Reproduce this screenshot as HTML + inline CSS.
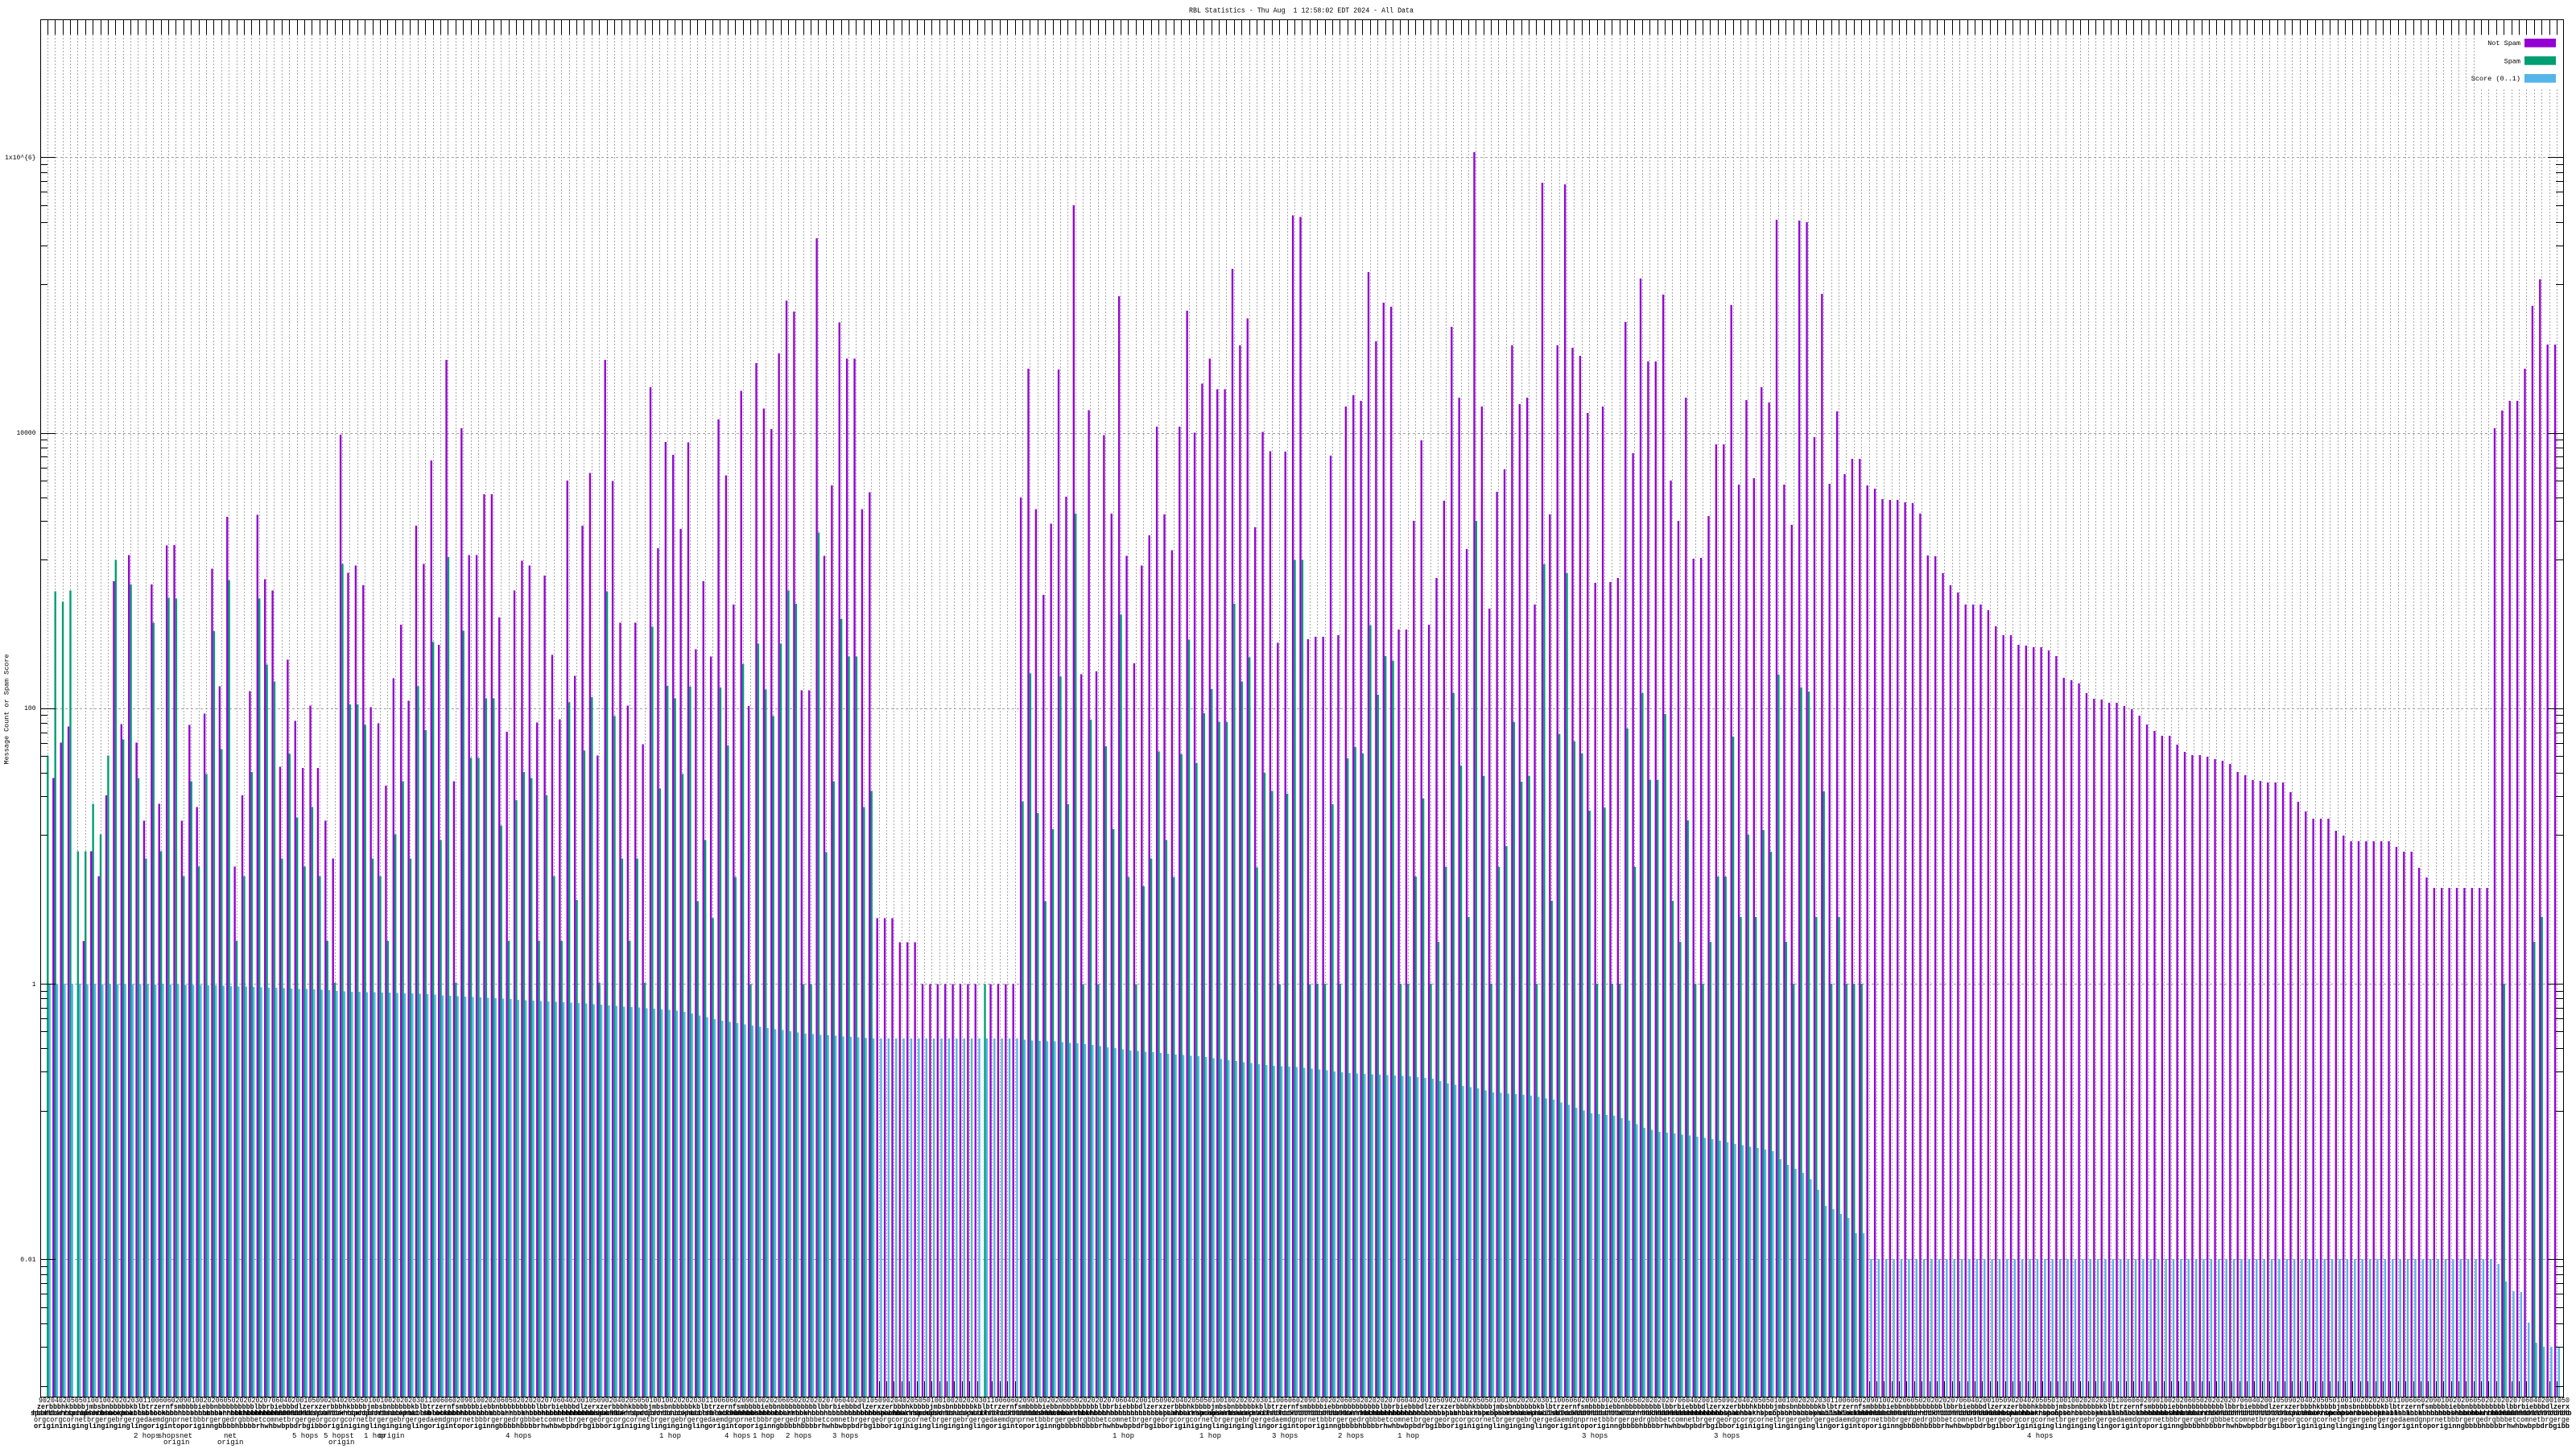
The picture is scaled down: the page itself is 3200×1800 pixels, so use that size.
<!DOCTYPE html>
<html><head><meta charset="utf-8"><title>RBL Statistics</title>
<style>
html,body{margin:0;padding:0;background:#fff;width:3200px;height:1800px;overflow:hidden}
svg{display:block}
text{font-family:"Liberation Mono","DejaVu Sans Mono",monospace;fill:#000;white-space:pre}
</style></head><body>
<svg id="s" xmlns="http://www.w3.org/2000/svg" width="3200" height="1800" viewBox="0 0 3200 1800">
<rect x="0" y="0" width="3200" height="1800" fill="#fff"/>
<path id="hg" fill="none" stroke="#a0a0a0" stroke-width="1" stroke-dasharray="3 3" d=""/>
<path id="vg" fill="none" stroke="#a8a8a8" stroke-width="1" stroke-dasharray="2 2" d=""/>
<rect x="3078" y="44" width="105" height="66" fill="#fff"/>
<path id="tk" fill="none" stroke="#000" stroke-width="1" d=""/>
<path id="bp" fill="#9400d3" d=""/>
<path id="bg" fill="#009e73" d=""/>
<path id="bb" fill="#56b4e9" d=""/>
<path id="yt" fill="none" stroke="#000" stroke-width="1" d=""/>
<rect x="50.5" y="24.5" width="3134" height="1711" fill="none" stroke="#000" stroke-width="1"/>

<text x="1477" y="15.5" font-size="9" textLength="279" lengthAdjust="spacingAndGlyphs">RBL Statistics - Thu Aug  1 12:58:02 EDT 2024 - All Data</text>

<text x="44.5" y="198" font-size="8" text-anchor="end">1x10^{6}</text>
<text x="44.5" y="540" font-size="8" text-anchor="end">10000</text>
<text x="44.5" y="882" font-size="8" text-anchor="end">100</text>
<text x="44.5" y="1225" font-size="8" text-anchor="end">1</text>
<text x="44.5" y="1567" font-size="8" text-anchor="end">0.01</text>

<text transform="translate(10.5,881) rotate(-90)" font-size="8.5" text-anchor="middle" textLength="137" lengthAdjust="spacingAndGlyphs">Message Count or Spam Score</text>

<text x="3131" y="56" font-size="8.5" text-anchor="end">Not Spam</text>
<rect x="3136" y="48" width="39" height="10.7" fill="#9400d3"/>
<text x="3131" y="78.3" font-size="8.5" text-anchor="end">Spam</text>
<rect x="3136" y="70" width="39" height="10.7" fill="#009e73"/>
<text x="3131" y="100" font-size="8.5" text-anchor="end">Score (0..1)</text>
<rect x="3136" y="92" width="39" height="10.7" fill="#56b4e9"/>

<g font-size="9">
<text x="48" y="1742" textLength="3144" lengthAdjust="spacingAndGlyphs">902040205050100100202020301100606020901002020605020202020706040200105090204020505010010020202030110060602090100202060502020202070604020010509020402050501001002020203011006060209010020206050202020207060402001050902040205050100100202020301100606020901002020605020202020706040200105090204020505010010020202030110060602090100202060502020202070604020010509020402050501001002020203011006060209010020206050202020207060402001050902040205050100100202020301100606020901002020605020202020706040200105090204020505010010020202030110060602090100202060502020202070604020010509020402050501001002020203011006060209010020206050202020207060402001050</text>
<text x="46" y="1750" font-weight="bold" textLength="3146" lengthAdjust="spacingAndGlyphs">zerbbbhkbbbbjmbsbnbbbbbkblbtrzernfsmbbbbiebbnbbbbbbbbblbbrbiebbbdlzerxzerbbbhkbbbbjmbsbnbbbbbkblbtrzernfsmbbbbiebbnbbbbbbbbblbbrbiebbbdlzerxzerbbbhkbbbbjmbsbnbbbbbkblbtrzernfsmbbbbiebbnbbbbbbbbblbbrbiebbbdlzerxzerbbbhkbbbbjmbsbnbbbbbkblbtrzernfsmbbbbiebbnbbbbbbbbblbbrbiebbbdlzerxzerbbbhkbbbbjmbsbnbbbbbkblbtrzernfsmbbbbiebbnbbbbbbbbblbbrbiebbbdlzerxzerbbbhkbbbbjmbsbnbbbbbkblbtrzernfsmbbbbiebbnbbbbbbbbblbbrbiebbbdlzerxzerbbbhkbbbbjmbsbnbbbbbkblbtrzernfsmbbbbiebbnbbbbbbbbblbbrbiebbbdlzerxzerbbbhkbbbbjmbsbnbbbbbkblbtrzernfsmbbbbiebbnbbbbbbbbblbbrbiebbbdlzerxzerbbbhkbbbbjmbsbnbbbbbkblbtrzernfsmbbbbiebbnbbbbbbbbblbbrbiebbbdlzerx</text>
<text x="38" y="1758" font-weight="bold" textLength="3154" lengthAdjust="spacingAndGlyphs">spamhbarrspcopsorbsucepmailsblockbbhhbbbbhhbbbbhhbbkhbbbhhbhbbhhbbhbbspamhbarrspcopsorbsucepmailsblockbbhhbbbbhhbbbbhhbbkhbbbhhbhbbhhbbhbbspamhbarrspcopsorbsucepmailsblockbbhhbbbbhhbbbbhhbbkhbbbhhbhbbhhbbhbbspamhbarrspcopsorbsucepmailsblockbbhhbbbbhhbbbbhhbbkhbbbhhbhbbhhbbhbbspamhbarrspcopsorbsucepmailsblockbbhhbbbbhhbbbbhhbbkhbbbhhbhbbhhbbhbbspamhbarrspcopsorbsucepmailsblockbbhhbbbbhhbbbbhhbbkhbbbhhbhbbhhbbhbbspamhbarrspcopsorbsucepmailsblockbbhhbbbbhhbbbbhhbbkhbbbhhbhbbhhbbhbbspamhbarrspcopsorbsucepmailsblockbbhhbbbbhhbbbbhhbbkhbbbhhbhbbhhbbhbbspamhbarrspcopsorbsucepmailsblockbbhhbbbbhhbbbbhhbbkhbbbhhbhbbhhbbhbb</text>
<text x="40.5" y="1758" font-weight="bold" textLength="3154" lengthAdjust="spacingAndGlyphs">hbbhbbkhbbmhbbhhbbhbbkhbbbhhbhbbhhbbhbbshbbmhbarrhbbhbbhhbbbhhbbhbbhbbhbbhbbkhbbmhbbhhbbhbbkhbbbhhbhbbhhbbhbbshbbmhbarrhbbhbbhhbbbhhbbhbbhbbhbbhbbkhbbmhbbhhbbhbbkhbbbhhbhbbhhbbhbbshbbmhbarrhbbhbbhhbbbhhbbhbbhbbhbbhbbkhbbmhbbhhbbhbbkhbbbhhbhbbhhbbhbbshbbmhbarrhbbhbbhhbbbhhbbhbbhbbhbbhbbkhbbmhbbhhbbhbbkhbbbhhbhbbhhbbhbbshbbmhbarrhbbhbbhhbbbhhbbhbbhbbhbbhbbkhbbmhbbhhbbhbbkhbbbhhbhbbhhbbhbbshbbmhbarrhbbhbbhhbbbhhbbhbbhbbhbbhbbkhbbmhbbhhbbhbbkhbbbhhbhbbhhbbhbbshbbmhbarrhbbhbbhhbbbhhbbhbbhbbhbbhbbkhbbmhbbhhbbhbbkhbbbhhbhbbhhbbhbbshbbmhbarrhbbhbbhhbbbhhbbhbbhbbhbbhbbkhbbmhbbhhbbhbbkhbbbhhbhbbhhbbhbbshbbmhbarrhbbhbbhhbbbhhbbhbbhb</text>
<text x="42" y="1766" textLength="3150" lengthAdjust="spacingAndGlyphs">orgcorgcornetbrgergebrgergedaemdgnprnetbbbrgergedrgbbbetcomnetbrgergeorgcorgcornetbrgergebrgergedaemdgnprnetbbbrgergedrgbbbetcomnetbrgergeorgcorgcornetbrgergebrgergedaemdgnprnetbbbrgergedrgbbbetcomnetbrgergeorgcorgcornetbrgergebrgergedaemdgnprnetbbbrgergedrgbbbetcomnetbrgergeorgcorgcornetbrgergebrgergedaemdgnprnetbbbrgergedrgbbbetcomnetbrgergeorgcorgcornetbrgergebrgergedaemdgnprnetbbbrgergedrgbbbetcomnetbrgergeorgcorgcornetbrgergebrgergedaemdgnprnetbbbrgergedrgbbbetcomnetbrgergeorgcorgcornetbrgergebrgergedaemdgnprnetbbbrgergedrgbbbetcomnetbrgergeorgcorgcornetbrgergebrgergedaemdgnprnetbbbrgergedrgbbbetcomnetbrgerge</text>
<text x="42" y="1774" font-weight="bold" textLength="3150" lengthAdjust="spacingAndGlyphs">origininiginglinginginglingorigintoporiginngbbbbhbbbbrhwhbwbpbdrbgibboriginiginglinginginglingorigintoporiginngbbbbhbbbbrhwhbwbpbdrbgibboriginiginglinginginglingorigintoporiginngbbbbhbbbbrhwhbwbpbdrbgibboriginiginglinginginglingorigintoporiginngbbbbhbbbbrhwhbwbpbdrbgibboriginiginglinginginglingorigintoporiginngbbbbhbbbbrhwhbwbpbdrbgibboriginiginglinginginglingorigintoporiginngbbbbhbbbbrhwhbwbpbdrbgibboriginiginglinginginglingorigintoporiginngbbbbhbbbbrhwhbwbpbdrbgibboriginiginglinginginglingorigintoporiginngbbbbhbbbbrhwhbwbpbdrbgibboriginiginglinginginglingorigintoporiginngbbbbhbbbbrhwhbwbpbdrbgibb</text>
</g>
<g font-size="9">
<text x="166" y="1786">2 hops</text>
<text x="196" y="1786">shopsnet</text>
<text x="278" y="1786">net</text>
<text x="363" y="1786">5 hops</text>
<text x="402" y="1786">5 hopst</text>
<text x="452" y="1786">1 hop</text>
<text x="470" y="1786">origin</text>
<text x="628" y="1786">4 hops</text>
<text x="819" y="1786">1 hop</text>
<text x="900" y="1786">4 hops</text>
<text x="935" y="1786">1 hop</text>
<text x="976" y="1786">2 hops</text>
<text x="1034" y="1786">3 hops</text>
<text x="1382" y="1786">1 hop</text>
<text x="1490" y="1786">1 hop</text>
<text x="1580" y="1786">3 hops</text>
<text x="1662" y="1786">2 hops</text>
<text x="1736" y="1786">1 hop</text>
<text x="1965" y="1786">3 hops</text>
<text x="2129" y="1786">3 hops</text>
<text x="2518" y="1786">4 hops</text>
<text x="203" y="1794">origin</text>
<text x="270" y="1794">origin</text>
<text x="408" y="1794">origin</text>
</g>
</svg>
<script>
(function(){
var N=333;
function T(k){return 59.3+9.389*k;}
function Y(v){return 1222-171.1*Math.log10(v);}
function $(id){return document.getElementById(id);}
var n=null;
// horizontal grid
var hg='';
[1e6,1e4,1e2,1,1e-2].forEach(function(v){var y=Math.round(Y(v))+0.5;hg+='M69 '+y+'H3166';});
$('hg').setAttribute('d',hg);
// vertical grid and x ticks
var vg='',tk='';
for(var k=0;k<N;k++){var x=Math.floor(T(k))+0.5;vg+='M'+x+' 43V1716';tk+='M'+x+' 24V43M'+x+' 1716V1735';}
$('vg').setAttribute('d',vg);$('tk').setAttribute('d',tk);
// y ticks
var yt='';
[-4,-2,0,2,4,6].forEach(function(e){
  var ym=Y(Math.pow(10,e));
  if(ym>24&&ym<1735){var y=Math.round(ym)+0.5;yt+='M50 '+y+'H69M3184 '+y+'H3165';}
  for(var j=1;j<=8;j++){var yy=ym-171.1*Math.log10(1+11*j);if(yy>25&&yy<1734){var y2=Math.round(yy)+0.5;yt+='M50 '+y2+'H59M3184 '+y2+'H3175';}}
});
$('yt').setAttribute('d',yt);
// data
var P=new Array(N),G=new Array(N);
function seg(arr,out,k0,f){for(var i=0;i<arr.length;i++){out[k0+i]=(arr[i]==null)?null:f(arr[i]);}}
var fA=function(z){return 380+z/1.825;};
var fB=function(z){return 170+z/1.0965;};
var fC=function(z){return 170+z;};
var PA=[n,1070,990,954,n,1440,1236,1293,1110,624,948,565,990,1167,631,1129,543,542,1167,950,1136,924,596,862,478,1271,1110,873,474,620,645,1045,802,941,1048,906,1048,1167,1253,292,605,589,633,910,946,1088,844,723,895,498,585,350,768,122,1078,277,565,565,427,427,706,965,645,578,589,944,611,791,937,396,839,498,379,1019,122,397,718,906,718,994,184,549,308,338];
var GA=[1019,647,671,645,1236,1236,1129,1198,1019,576,983,631,1070,1253,718,1236,662,663,1293,1078,1271,1061,737,1005,622,1440,1293,1057,663,813,851,1253,1016,1160,1271,1136,1293,1440,1535,585,903,903,950,1253,1293,1440,1198,1078,1253,862,962,762,1211,569,1535,736,1025,1025,890,890,1178,1440,1121,1057,1070,1440,1110,1293,1440,899,1347,1008,887,1535,647,930,1253,1440,1253,1535,727,1094,861,890];
var PB=[534,416,698,605,708,385,461,637,346,775,308,370,398,295,223,238,754,754,138,571,475,253,302,302,507,484,1064,1064,1064,1097,1097,1097,1154,1154,1154,1154,1154,1154,1154,1154,n,1154,1154,1154,1154,491,316,507,624,527,317,490,93,732,372,728,406,513,217,571,717,584,543,395,514,563,395,237,403,336,302,344,344,180,284,247,532,402,428,689,429,107,109,684];
var GB=[868,749,1041,958,1064,750,829,1008,718,1154,690,753,789,690,618,636,1154,1154,539,974,878,657,708,708,913,891,n,n,n,n,n,n,n,n,n,n,n,n,n,n,1154,n,n,n,n,905,731,921,1041,943,735,909,513,1154,794,1154,830,943,651,1008,1154,1021,983,837,958,1008,841,685,853,785,752,797,797,636,742,709,995,866,891,1154,895,576,576,1154];
var PC=[621,621,396,619,335,321,328,168,254,206,211,612,612,477,377,606,548,452,236,324,512,19,335,586,441,413,259,332,324,581,57,469,259,59,262,272,343,554,335,553,548,230,393,176,279,279,196,427,477,324,524,523,471,382,382,209,432,327,424,311,330,103,432,482,104,106,373,195,431,341,419,400,400,433,437,450,451,451,454,455,468,520,521];
var GC=[1052,1052,829,1052,772,758,766,607,693,645,651,1052,1052,919,822,1052,1000,907,691,781,969,477,794,1052,907,881,727,801,794,1052,531,949,742,542,751,766,837,1052,833,1052,1052,735,907,691,799,799,717,949,1000,849,1052,1052,1000,919,919,745,969,867,969,861,888,668,1000,1052,684,689,969,813,1052,969,1052,1052,1052,n,n,n,n,n,n,n,n,n,n];
var PD=[542,557,566,581,581,581,588,608,619,619,631,632,634,634,638,645,672,675,679,691,698,699,703,703,707,711,719,730,738,744,744,755,764,768,768,770,773,775,779,789,793,799,800,802,802,802,814,826,838,847,847,847,862,868,875,875,875,875,875,875,882,888,888,908,920,933,933,933,933,933,933,933,933,362,340,328,328,288,210,177,258,258];
seg(PA,P,0,fA);seg(GA,G,0,fA);
seg(PB,P,84,fB);seg(GB,G,84,fB);
seg(PC,P,168,fC);seg(GC,G,168,fC);
seg(PD,P,251,fC);
for(var k2=251;k2<N;k2++)G[k2]=null;
G[325]=170+1052;G[329]=170+1000;G[330]=170+969;
// blue profile
var BP=[[0,1222],[10,1222.5],[20,1223.5],[27,1226],[35,1229],[40,1232],[45,1233],[50,1235],[54,1237.5],[70,1246],[83,1255.3],[84,1257],[89,1268],[93,1274],[100,1284],[103,1286],[106,1288],[109,1290],[128,1290],[130,1292.6],[133,1293.6],[138,1298],[143,1305],[146,1307],[149,1310],[152,1312],[155,1315.5],[157,1318],[160,1322],[162,1324],[165,1325.5],[167,1327.5],[172,1333],[180,1337],[183,1340],[185,1346],[189,1352],[191,1357],[194,1359],[196,1361],[199,1366],[202,1376],[204,1383],[207,1386],[209,1392],[211,1401],[213,1406],[215,1408],[218,1412],[220,1415],[223,1421],[226,1426],[228,1430],[229,1440],[230,1447],[231,1452],[232,1457],[233,1465],[234,1478],[235,1498],[236,1502],[237,1508],[238,1513],[239,1532],[240,1532],[241,1564],[323,1564],[324,1570],[325,1592],[326,1604],[327,1605],[328,1643],[329,1668],[330,1673],[332,1673]];
function blueY(k){for(var i=0;i<BP.length-1;i++){var a=BP[i],b=BP[i+1];if(k>=a[0]&&k<=b[0]){return a[1]+(b[1]-a[1])*(k-a[0])/(b[0]-a[0]);}}return BP[BP.length-1][1];}
function bar(x0,x1,y){y=Math.round(y*2)/2;return 'M'+x0.toFixed(2)+' '+y+'H'+x1.toFixed(2)+'V1735H'+x0.toFixed(2)+'Z';}
var dp='',dg='',db='';
for(var k=0;k<N;k++){
  var t=T(k);
  if(P[k]!=null&&P[k]<1735)dp+=bar(t-3.55,t-1.2,P[k]);
  if(G[k]!=null&&G[k]<1735)dg+=bar(t-1.2,t+1.2,G[k]);
  db+=bar(t+1.2,t+3.55,blueY(k));
}
$('bp').setAttribute('d',dp);$('bg').setAttribute('d',dg);$('bb').setAttribute('d',db);
})();
</script>
</body></html>
